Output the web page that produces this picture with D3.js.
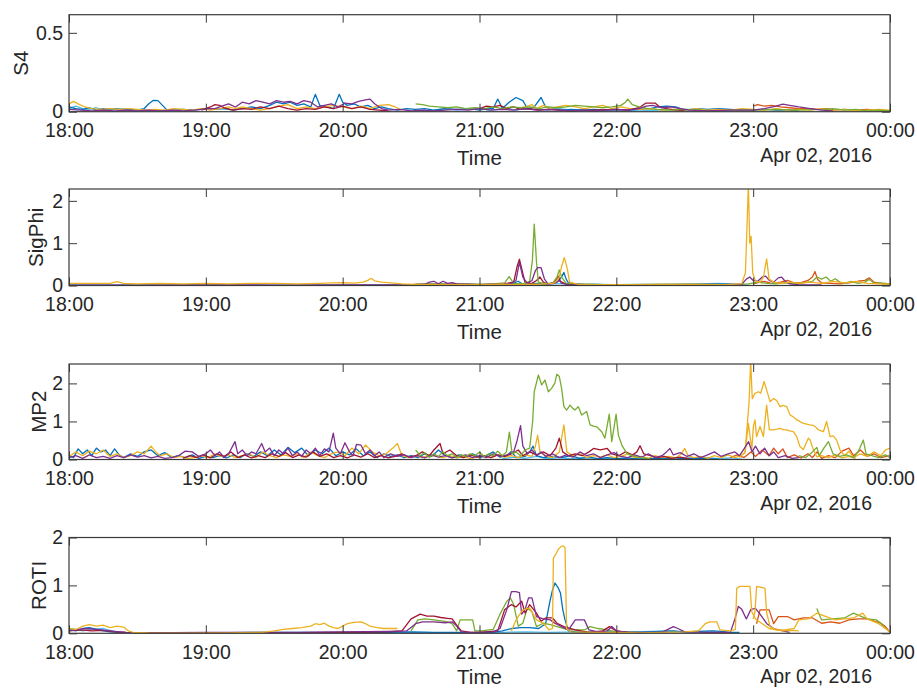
<!DOCTYPE html>
<html>
<head>
<meta charset="utf-8">
<script src="https://cdn.jsdelivr.net/npm/d3@7"></script>
<style>
  body { margin: 0; background: #fff; }
  svg text { font-family: "Liberation Sans", Arial, Helvetica, sans-serif; fill: #262626; }
</style>
</head>
<body>
<svg id="chart" width="917" height="688"></svg>
<script>
// Time window (UTC) and axis texts
const startTime = Date.UTC(2016, 3, 1, 18, 0);
const endTime = Date.UTC(2016, 3, 2, 0, 0);
const xLabel = "Time";
const dateLabel = "Apr 02, 2016";
const panelLabels = ["S4", "SigPhi", "MP2", "ROTI"];
const panelYMax = [0.615, 2.28, 2.51, 2.0];
const panelYTicks = [[0, 0.5], [0, 1, 2], [0, 1, 2], [0, 1, 2]];

// Each series: [minutes after 18:00, value]; null breaks the line
// ---------- S4 ----------
const s4Blue = [[0,.03],[3,.02],[6,.015],[9,.025],[12,.01],[15,.02],[18,.015],[21,.02],[24,.01],[27,.015],[30,.01],[33,.02],[35,.05],[37,.072],[39,.07],[41,.04],[43,.01],[46,.01],[50,.015],[55,.01],[60,.02],[64,.015],[68,.02],[72,.01],[76,.02],[80,.03],[84,.02],[88,.04],[91,.06],[94,.05],[97,.06],[100,.04],[103,.05],[106,.03],[108,.11],[110,.04],[113,.03],[116,.02],[118.5,.11],[120,.06],[122,.04],[125,.05],[128,.03],[131,.04],[134,.02],[137,.03],[140,.02],[144,.01],[148,.02],[152,.015],[156,.02],[160,.01],[165,.02],[170,.015],[175,.02],[180,.01],[184,.02],[186,.02],[188,.08],[190,.02],[193,.06],[196,.09],[199,.07],[201,.02],[204,.03],[207,.09],[209,.03],[212,.02],[216,.01],[220,.015],[225,.01],[230,.015],[235,.01],[240,.015],[245,.01],[250,.015],[255,.02],[258,.03],[262,.035],[266,.03],[270,.01],[276,.02],[280,.015],[285,.02],[290,.015],[295,.01],[300,.01],[305,.015],[310,.01],[315,.01],[320,.005]];
const s4LightBlue = [[0,.02],[3,.035],[6,.02],[9,.015],[12,.025],[15,.01],[18,.02],[21,.015],[24,.02],[28,.01],[32,.015],[36,.005],[40,.01],[44,.005],[48,null],[160,.01],[165,.02],[170,.01],[175,.015],[180,.02],[184,.01],[188,.015],[192,.02],[196,.01],[200,.02],[205,.015],[210,.01],[215,.02],[220,.01],[225,.015],[230,.005],[240,.01],[250,.005],[260,.01],[270,.015],[280,.01],[290,.005],[300,.01]];
const s4Yellow = [[0,.05],[2,.065],[4,.05],[7,.03],[10,.02],[14,.015],[18,.02],[22,.015],[26,.02],[30,.015],[34,.01],[38,.015],[42,.01],[46,.02],[50,.015],[54,.01],[58,.02],[62,.01],[66,.02],[70,.03],[73,.02],[76,.03],[80,.02],[84,.01],[88,.02],[92,.035],[96,.045],[100,.02],[104,.03],[108,.02],[112,.03],[116,.04],[120,.03],[124,.02],[128,.035],[132,.02],[136,.04],[140,.045],[143,.03],[146,.01],[148,null],[196,.02],[200,.03],[203,.045],[205,.02],[208,.04],[211,.02],[214,.03],[218,.04],[222,.03],[226,.02],[230,.03],[234,.04],[238,.02],[242,.03],[246,.02],[250,.015],[255,.02],[260,.01],[265,.015],[270,.01],[275,.02],[280,.01],[285,.015],[290,.01],[295,.02],[300,.015],[305,.01],[310,.02],[315,.01],[320,.015],[325,.01],[330,.02],[335,.01],[340,.015],[345,.005],[350,.01],[355,.015],[360,.01]];
const s4Purple = [[0,.015],[5,.01],[10,.005],[15,.01],[20,.005],[25,.01],[30,.005],[35,.01],[40,.005],[45,.01],[50,.005],[55,.01],[58,.015],[61,.02],[64,.02],[67,.035],[70,.05],[73,.03],[76,.06],[79,.05],[82,.07],[85,.06],[88,.05],[91,.07],[94,.06],[97,.065],[100,.05],[103,.07],[106,.06],[109,.03],[112,.04],[115,.05],[118,.03],[121,.055],[124,.05],[127,.065],[130,.075],[132,.08],[134,.05],[137,.02],[140,.01],[145,.015],[150,.005],[155,.01],[160,.005],[165,.01],[170,.015],[175,.01],[180,.02],[185,.01],[190,.015],[195,.01],[200,.02],[205,.01],[210,.015],[215,.01],[220,.005],[225,.01],[230,.005],[235,.01],[240,.015],[245,.01],[250,.02],[253,.035],[256,.04],[260,.025],[264,.03],[268,.02],[272,.01],[280,.005],[290,.01],[300,.01],[305,.02],[310,.035],[313,.048],[316,.04],[320,.03],[325,.02],[330,.01],[335,.005]];
const s4Green = [[152,.05],[155,.045],[158,.035],[162,.03],[166,.025],[170,.03],[174,.02],[178,.025],[182,.02],[186,.03],[190,.02],[194,.03],[198,.025],[202,.03],[206,.02],[210,.03],[214,.025],[218,.03],[222,.04],[226,.035],[230,.03],[234,.025],[238,.03],[242,.04],[244,.06],[245,.08],[247,.045],[250,.03],[254,.02],[258,.015],[264,.01],[270,.015],[276,.01],[282,.005],[290,.01],[300,.01],[310,.015],[320,.01],[330,.015],[335,.02],[340,.01],[345,.015],[350,.005],[355,.01],[360,.005]];
const s4DarkRed = [[58,.01],[62,.03],[64,.045],[66,.04],[68,.025],[72,.01],[76,.02],[80,.015],[84,.03],[88,.02],[92,.035],[96,.02],[100,.01],[104,.02],[108,.015],[112,.03],[116,.02],[120,.035],[124,.02],[128,.03],[132,.015],[136,.01],[140,.005],[145,null],[180,.02],[183,.035],[186,.03],[189,.04],[192,.02],[195,.03],[198,.015],[202,.02],[206,.01],[210,.015],[215,.01],[220,.005],[230,.01],[240,.015],[245,.01],[250,.025],[253,.055],[257,.055],[259,.03],[262,.02],[266,.01],[270,.005]];
const s4Orange = [[300,.035],[302,.045],[305,.035],[308,.04],[312,.03],[316,.025],[320,.02],[325,.02],[328,.015],[332,.02],[336,.01],[340,.015],[345,.01],[350,.015],[355,.005],[360,.005]];

// ---------- SigPhi ----------
const sigBlue = [[0,.01],[40,.01],[80,.005],[120,.01],[150,.01],[158,.03],[160,.01],[180,.01],[194,.03],[197,.1],[199,.03],[205,.05],[210,.03],[214,.08],[216,.2],[217,.31],[218,.15],[219,.06],[222,.04],[226,.03],[235,.02],[250,.015],[265,.02],[275,.03],[282,.04],[288,.03],[295,.01]];
const sigLightBlue = [[190,.02],[205,.02],[212,.04],[220,.05],[224,.03],[240,.02],[255,.03],[265,.04],[275,.035],[285,.05],[292,.03],[298,.01]];
const sigYellow = [[0,.05],[10,.05],[18,.05],[21,.09],[24,.05],[30,.04],[40,.05],[50,.04],[60,.05],[70,.04],[80,.05],[90,.05],[100,.04],[110,.05],[115,.06],[120,.065],[125,.055],[129,.08],[131,.12],[132.5,.17],[134,.11],[137,.08],[141,.06],[146,.04],[150,.03],[160,.02],[170,.02],[180,.02],[190,.03],[196,.02],[205,.03],[210,.04],[213,.06],[215,.2],[216,.45],[217.2,.66],[218.5,.4],[219.5,.08],[223,.03],[230,.02],[245,.02],[260,.03],[275,.03],[288,.02],[295,.04],[296.6,.3],[297.3,1.4],[297.9,2.4],[298.5,1.0],[299.1,1.16],[299.8,.3],[301,.1],[303,.08],[304.5,.2],[305.9,.63],[307,.15],[309,.08],[312,.05],[316,.08],[320,.05],[325,.08],[330,.05],[335,.1],[340,.06],[345,.1],[350,.05],[355,.04],[360,.03]];
const sigPurple = [[0,.01],[30,.01],[60,.015],[90,.01],[120,.015],[150,.02],[156,.03],[158,.08],[160,.1],[162,.04],[164,.1],[166,.05],[168,.07],[170,.04],[175,.03],[180,.02],[185,.03],[190,.03],[194,.05],[196,.12],[197.5,.55],[199,.2],[201,.05],[203,.12],[204.5,.35],[205.5,.42],[207,.42],[208.5,.15],[210,.04],[213,.05],[215,.12],[216,.05],[219,.02],[230,.015],[250,.02],[270,.015],[285,.02],[295,.03],[297,.15],[298.5,.2],[300,.12],[302,.1],[304,.2],[305.5,.22],[307,.12],[309,.08],[311,.18],[312.5,.2],[314,.1],[316,.04],[320,.02],[330,.015]];
const sigGreen = [[152,.03],[160,.04],[170,.03],[180,.03],[186,.04],[191,.06],[193,.21],[195,.05],[199,.04],[202,.1],[203.2,.6],[204,1.45],[205,.55],[205.8,.08],[208,.05],[212,.05],[214,.2],[215,.37],[216,.2],[218,.05],[222,.03],[235,.02],[250,.02],[270,.02],[290,.02],[298,.04],[302,.08],[306,.05],[310,.04],[314,.06],[318,.04],[322,.06],[326,.1],[328,.2],[330,.15],[332,.2],[334,.1],[336,.16],[338,.08],[340,.05],[343,.1],[346,.05],[349,.08],[351,.15],[353,.05],[356,.06],[360,.04]];
const sigDarkRed = [[150,.02],[160,.03],[170,.03],[180,.02],[190,.03],[195,.08],[196.5,.45],[197.5,.62],[198.5,.4],[200,.06],[203,.05],[205,.12],[206.5,.2],[208,.08],[210,.03],[213,.08],[214.5,.22],[215.5,.1],[218,.03],[225,.02],[240,.01],[260,.01],[280,.015],[290,.01]];
const sigOrange = [[300,.04],[303,.08],[305,.1],[308,.05],[312,.08],[315,.12],[318,.06],[321,.07],[324,.12],[326,.2],[327.1,.33],[328.2,.15],[330,.06],[334,.05],[338,.04],[342,.06],[346,.1],[349,.12],[351,.18],[353,.08],[356,.05],[360,.04]];

// ---------- MP2 ----------
const mpBlue = [[0,.1],[2,.05],[4,.28],[6,.15],[8,.25],[10,.1],[12,.3],[14,.2],[16,.25],[18,.1],[20,.28],[22,.12],[24,.05],[27,.15],[30,.08],[33,.2],[36,.25],[39,.1],[42,.18],[45,.05],[48,.1],[51,.05],[54,.12],[57,.03],[60,.08],[63,.05],[66,.1],[69,.04],[72,.12],[75,.05],[78,.15],[81,.08],[84,.2],[87,.1],[90,.25],[93,.12],[96,.32],[99,.18],[102,.3],[105,.1],[108,.25],[111,.15],[114,.3],[117,.1],[120,.2],[123,.12],[126,.28],[129,.1],[132,.2],[135,.05],[138,.15],[141,.08],[144,.12],[147,.05],[150,.1],[153,.05],[156,.15],[159,.08],[162,.25],[165,.1],[168,.05],[171,.12],[174,.08],[177,.15],[180,.05],[183,.1],[186,.2],[189,.06],[192,.1],[194,.22],[196,.05],[200,.08],[202,.2],[203.5,.35],[205,.1],[208,.05],[212,.08],[216,.05],[220,.1],[224,.03],[228,.06],[232,.02],[236,.05],[240,.02],[245,.04],[250,.01],[255,.03],[260,.02],[265,.05],[270,.02],[275,.04],[280,.02],[285,.01]];
const mpLightBlue = [[190,.02],[195,.06],[200,.03],[205,.08],[210,.02],[215,.05],[220,.02],[225,.04],[230,.01],[235,.03],[240,.01],[250,.02],[260,.01],[270,.03],[280,.05],[285,.02],[290,.04],[295,.01]];
const mpYellow = [[0,.08],[3,.2],[6,.1],[9,.22],[12,.15],[15,.25],[18,.08],[21,.15],[24,.05],[27,.1],[30,.2],[33,.15],[36,.35],[38,.2],[40,.1],[43,.15],[46,.05],[49,.08],[52,.03],[55,.05],[58,.1],[61,.05],[64,.15],[67,.08],[70,.12],[73,.05],[76,.1],[79,.15],[82,.05],[85,.2],[88,.1],[91,.05],[94,.12],[97,.08],[100,.15],[103,.05],[106,.2],[109,.1],[112,.05],[115,.15],[118,.2],[121,.1],[124,.3],[127,.15],[130,.38],[133,.2],[136,.1],[139,.15],[142,.3],[144,.42],[146,.1],[149,.05],[152,.1],[155,.05],[158,.12],[161,.08],[164,.05],[167,.1],[170,.04],[173,.08],[176,.03],[179,.06],[182,.1],[185,.05],[188,.12],[191,.06],[194,.1],[197,.05],[200,.12],[203,.08],[204.5,.35],[205.5,.64],[206.5,.2],[209,.1],[212,.05],[215,.2],[217,.91],[218.3,.2],[221,.1],[224,.15],[227,.05],[230,.1],[233,.06],[236,.12],[239,.05],[242,.08],[245,.15],[248,.05],[251,.08],[254,.03],[257,.1],[260,.05],[263,.08],[266,.04],[268.5,.15],[270,.29],[271.5,.1],[274,.05],[277,.08],[280,.03],[283,.1],[286,.05],[289,.12],[292,.05],[294.5,.1],[296.4,.17],[298.2,1.5],[298.9,2.6],[299.6,1.6],[300.8,1.74],[302.3,1.78],[303.3,1.74],[304.8,2.05],[305.9,1.83],[307.4,1.52],[309,1.6],[310.3,1.55],[311.8,1.39],[313,1.42],[314.7,1.39],[316.2,1.17],[317.6,1.12],[319.1,1.04],[320.5,1.0],[322,.95],[323.5,.93],[324.9,.91],[326,.9],[327.1,.87],[328.6,.78],[330.8,.73],[332.2,1.0],[333.7,.6],[335.1,.62],[336.6,.51],[338.1,.25],[340,.1],[342,.22],[344,.05],[347,.15],[350,.08],[353,.2],[356,.1],[358,.25],[360,.3]];
const mpYellow2 = [[294,.05],[296.5,.2],[297.9,.95],[299.4,.26],[300.1,.87],[300.8,1.04],[301.5,.6],[303,.87],[304.5,.6],[305.9,1.43],[307.1,.78],[308.8,.78],[310.5,.8],[311.8,.82],[313.5,.78],[314.7,.78],[316,.75],[317.6,.73],[319.1,.6],[320.5,.34],[322,.26],[324.2,.56],[324.9,.52],[326.4,.26],[327.9,.07],[330,.1],[333,.05],[336,.12],[339,.04],[342,.08],[345,.03]];
const mpPurple = [[0,.05],[3,.1],[6,.03],[9,.12],[12,.05],[15,.08],[18,.03],[21,.1],[24,.05],[27,.12],[30,.06],[33,.1],[36,.04],[39,.08],[42,.03],[45,.05],[48,.1],[51,.22],[54,.2],[57,.08],[60,.15],[62,.25],[64,.1],[66,.2],[68,.05],[70,.15],[72.8,.47],[74,.15],[76,.25],[78,.1],[80,.2],[82,.15],[84.5,.42],[86,.2],[88,.3],[90,.1],[92,.25],[94,.15],[96,.3],[98,.1],[100,.2],[102,.08],[104,.25],[106,.15],[108,.3],[110,.1],[112,.28],[114,.2],[115.9,.69],[117,.3],[119,.15],[121,.44],[123,.2],[124.5,.1],[126.1,.4],[128,.38],[130,.15],[132,.25],[134,.1],[136,.2],[138,.05],[141,.15],[144,.08],[147,.12],[150,.05],[153,.1],[156,.04],[159,.12],[162,.06],[165,.1],[168,.04],[171,.08],[174,.12],[177,.05],[180,.1],[183,.05],[186,.15],[189,.08],[192,.12],[195,.2],[196.5,.5],[198,.89],[199,.35],[201,.15],[203,.25],[205,.1],[207,.2],[209,.08],[212,.15],[215,.05],[218,.12],[221,.06],[224,.2],[227,.1],[230,.15],[233,.05],[236,.12],[239,.18],[242,.08],[245,.05],[248,.12],[251,.06],[254,.15],[257,.05],[260,.1],[262,.2],[263.5,.29],[265,.12],[268,.18],[271,.08],[274,.15],[277,.05],[280,.12],[283,.2],[286,.08],[289,.15],[292,.2],[294,.1],[296,.28],[298,.47],[299.5,.2],[301,.35],[303,.15],[305,.3],[307,.1],[309,.2],[311,.05],[314,.1],[317,.03],[320,.05]];
const mpDarkRed = [[50,.03],[53,.1],[56,.05],[59,.12],[62,.04],[65,.15],[68,.08],[71,.2],[74,.05],[77,.12],[80,.04],[83,.1],[86,.05],[89,.15],[92,.08],[95,.18],[98,.05],[101,.12],[104,.06],[107,.2],[110,.08],[113,.15],[116,.05],[119,.1],[122,.04],[125,.12],[128,.06],[131,.15],[134,.05],[137,.1],[140,.04],[143,.08],[146,.15],[149,.06],[152,.1],[155,.2],[158,.1],[160,.25],[162.7,.42],[164,.15],[167,.25],[170,.1],[173,.05],[176,.12],[179,.06],[182,.1],[185,.05],[188,.12],[191,.08],[194,.15],[197,.25],[199,.1],[202,.2],[205,.12],[208,.2],[211,.1],[213.5,.3],[215,.56],[216.5,.2],[219,.1],[222,.15],[225,.1],[228,.2],[230,.29],[233,.25],[236,.29],[238,.15],[241,.1],[244,.2],[247,.12],[249,.2],[250.4,.36],[252,.15],[255,.1],[258,.05],[261,.08],[264,.03],[268,.06],[272,.02]];
const mpOrange = [[290,.05],[293,.12],[296,.05],[299,.2],[301,.08],[304,.25],[307,.1],[309,.3],[311,.15],[313,.28],[315,.05],[318,.12],[321,.04],[324,.15],[326,.05],[328,.2],[330,.03],[333,.1],[336,.05],[339,.22],[342,.3],[344,.1],[347,.25],[350,.08],[353,.15],[356,.05],[360,.1]];
const mpGreen = [[152,.25],[154,.1],[156,.18],[158,.05],[160,.15],[162,.08],[164,.2],[166,.1],[168,.15],[170,.05],[172,.12],[174,.08],[176,.15],[178,.1],[180,.2],[182,.08],[184,.15],[186,.1],[188,.22],[190,.1],[191.8,.2],[193.1,.72],[194.3,.15],[196,.2],[198,.1],[200,.25],[202,.3],[203.3,1.0],[204,1.78],[205.8,2.22],[207.3,1.96],[208.7,2.09],[210.2,1.78],[211.6,1.87],[213,2.0],[213.9,2.24],[215,2.18],[216,1.87],[217,1.39],[218.2,1.3],[219.7,1.43],[220.8,1.35],[221.9,1.3],[223.3,1.39],[224.8,1.17],[227,1.26],[228.5,.91],[230,.88],[231.4,.86],[233.6,.73],[235,.56],[236.9,1.19],[238,.47],[239.9,1.19],[240.9,.64],[242.4,.38],[244.6,.16],[247,.1],[250,.05],[254,.03],[258,null],[320,.1],[323,.05],[326,.2],[327.9,.32],[329,.1],[331,.3],[333,.47],[335,.15],[338,.08],[341,.12],[344,.05],[346,.2],[348.3,.51],[349.5,.15],[352,.1],[355,.05],[358,.12],[360,.05]];

// ---------- ROTI ----------
const roBlue = [[0,.08],[3,.05],[6,.1],[9,.12],[12,.08],[15,.05],[18,.03],[22,.02],[26,.01],[40,.01],[60,.01],[80,.02],[100,.02],[120,.02],[140,.02],[150,.03],[160,.02],[170,.02],[180,.01],[186,.02],[190,.05],[194,.1],[198,.12],[202,.12],[206,.1],[209,.2],[210.9,.67],[212,.9],[213.1,1.05],[214.5,.95],[215.5,.84],[216.5,.5],[217.5,.28],[219,.05],[222,.03],[230,.02],[240,.03],[250,.02],[260,.04],[265,.05],[270,.03],[275,.04],[282,.05],[286,.04],[290,.02],[294,.02]];
const roLightBlue = [[0,.1],[3,.08],[6,.05],[9,.07],[12,.09],[15,.1],[18,.06],[22,.02],[30,.01],[50,.01],[70,.005],[90,.01],[110,.01],[130,.015],[150,.02],[170,.01],[190,.02],[200,.03],[210,.02],[225,.03],[240,.02],[255,.04],[262,.05],[268,.03],[280,.02],[292,.01]];
const roYellow = [[0,.1],[3,.08],[6,.15],[9,.18],[12,.15],[15,.17],[18,.12],[21,.15],[24,.13],[26,.05],[28,.02],[35,.01],[50,.005],[70,.01],[85,.02],[90,.05],[94,.08],[98,.1],[102,.12],[106,.15],[108,.2],[110,.18],[112,.21],[114,.15],[116,.12],[118,.1],[120,.15],[122,.2],[125,.23],[128,.24],[130,.2],[132,.15],[135,.12],[138,.1],[142,.1],[144,.1]];
const roYellow2 = [[194,.05],[196,.28],[199,.49],[202,.53],[205,.28],[208,.21],[210.5,.07],[212,.1],[212.4,1.57],[213.1,1.62],[214.5,1.75],[216,1.82],[217,1.82],[217.5,1.78],[218.2,.1],[220,.03],[230,.02],[240,.02],[250,.01],[260,.02],[270,.03],[276,.05],[279,.2],[281,.24],[284,.24],[285.5,.07],[290,.05],[292.2,.08],[292.8,.94],[294.2,.98],[298.6,.98],[299.4,.45],[301,.3],[304,.2],[307,.1],[310,.07],[314,.07],[318,.1],[320,.28],[324,.3],[328,.42],[332,.35],[336,.28],[340,.3],[344,.32],[348,.42],[350,.3],[355,.2],[358,.1],[360,.02]];
const roYellow3 = [[300,.3],[300.8,.45],[301.5,.98],[305.2,.94],[305.9,.43],[307.4,.14],[310.3,.07],[313,.05],[316,.06],[320,.05]];
const roPurple = [[0,.05],[4,.08],[8,.1],[12,.08],[16,.06],[20,.04],[25,.02],[30,.01],[60,.02],[80,.02],[100,.02],[120,.03],[140,.04],[148,.05],[152,.2],[155,.24],[160,.24],[165,.22],[168,.24],[170,.15],[172,.03],[175,.02],[180,.02],[186,.03],[189,.1],[192,.5],[194,.87],[196,.87],[197.5,.85],[198.5,.4],[200,.5],[201.5,.74],[203,.74],[205,.35],[208,.3],[211,.28],[213,.21],[216,.14],[219,.07],[222,.28],[226,.28],[228,.07],[232,.03],[236,.05],[238,.14],[240,.05],[245,.02],[260,.02],[265,.14],[267,.1],[270,.03],[280,.02],[290,.02],[292,.3],[293.5,.56],[295,.5],[297,.3],[299,.5],[301,.52],[303,.4],[306,.2],[309,.1],[313,.05],[316,.02]];
const roDarkRed = [[0,.05],[5,.07],[10,.05],[15,.06],[20,.03],[25,.02],[40,.01],[80,.01],[120,.02],[140,.03],[146,.05],[150,.3],[154,.4],[157,.36],[160,.36],[163,.33],[166,.31],[168,.3],[170,.17],[172,.05],[176,.02],[180,.02],[188,.05],[191,.49],[194,.6],[196,.55],[198.5,.67],[200,.42],[202,.6],[205,.42],[207,.25],[209,.32],[212,.32],[214,.21],[217,.14],[222,.07],[228,.02],[234,.05],[237,.14],[240,.05],[245,.02]];
const roGreen = [[150,.05],[153,.28],[156,.3],[160,.28],[165,.25],[168,.2],[170,.05],[171.5,.28],[177,.28],[178,.05],[181,.05],[186,.08],[189,.4],[192,.67],[193.5,.74],[195,.6],[197,.15],[199,.21],[201,.53],[203,.45],[205,.14],[208,.21],[211,.18],[214,.14],[219,.07],[226,.07],[228.5,.14],[232,.1],[236,.07],[240,.03],[250,.02],[255,null],[327.9,.52],[330,.28],[335,.3],[340,.32],[344,.42],[346,.38],[350,.3],[354,.28],[356,.21],[358,.1]];
const roOrange = [[301.5,.2],[303,.49],[307,.49],[309,.2],[311,.35],[315,.35],[318,.28],[322,.32],[326,.32],[330,.21],[334,.24],[338,.21],[342,.28],[346,.3],[350,.3],[354,.24],[356,.21],[358,.14],[360,.02]];

// Line colours (MATLAB default order)
const palette = {
  blue: "#0072BD", orange: "#D95319", yellow: "#EDB120", purple: "#7E2F8E",
  green: "#77AC30", lightBlue: "#4DBEEE", darkRed: "#A2142F"
};

// Series per panel, in drawing order
const panelSeries = [
  [[s4LightBlue,"lightBlue"],[s4Blue,"blue"],[s4Orange,"orange"],[s4Yellow,"yellow"],[s4DarkRed,"darkRed"],[s4Green,"green"],[s4Purple,"purple"]],
  [[sigLightBlue,"lightBlue"],[sigBlue,"blue"],[sigOrange,"orange"],[sigDarkRed,"darkRed"],[sigGreen,"green"],[sigPurple,"purple"],[sigYellow,"yellow"]],
  [[mpLightBlue,"lightBlue"],[mpBlue,"blue"],[mpOrange,"orange"],[mpYellow2,"yellow"],[mpYellow,"yellow"],[mpDarkRed,"darkRed"],[mpPurple,"purple"],[mpGreen,"green"]],
  [[roLightBlue,"lightBlue"],[roBlue,"blue"],[roOrange,"orange"],[roGreen,"green"],[roDarkRed,"darkRed"],[roPurple,"purple"],[roYellow,"yellow"],[roYellow2,"yellow"],[roYellow3,"yellow"]]
];

// Layout
const plotLeft = 69, plotRight = 890;
const panelTop = [14.7, 189, 364, 537.5];
const panelBottom = [111.7, 285.5, 459.5, 633.3];
const labelX = [28, 42.5, 46, 45.5];
const xLabelGap = [53, 53, 53, 51];
const tickLen = 8;
const axisColor = "#3a3a3a";

const svg = d3.select("#chart");
const x = d3.scaleUtc().domain([startTime, endTime]).range([plotLeft, plotRight]);
const hourTicks = d3.utcHour.every(1).range(new Date(startTime), new Date(endTime + 1));
const fmtHM = d3.utcFormat("%H:%M");

panelLabels.forEach((label, i) => {
  const top = panelTop[i], bottom = panelBottom[i];
  const y = d3.scaleLinear().domain([0, panelYMax[i]]).range([bottom, top]);
  const g = svg.append("g");

  const clipId = "clip" + i;
  svg.append("clipPath").attr("id", clipId)
    .append("rect").attr("x", plotLeft).attr("y", top)
    .attr("width", plotRight - plotLeft).attr("height", bottom - top);

  const line = d3.line()
    .defined(d => d[1] != null)
    .x(d => x(startTime + d[0] * 60000))
    .y(d => y(d[1]));

  const lines = g.append("g").attr("clip-path", `url(#${clipId})`);
  panelSeries[i].forEach(([data, key]) => {
    lines.append("path")
      .datum(data)
      .attr("d", line)
      .attr("fill", "none")
      .attr("stroke", palette[key])
      .attr("stroke-width", 1.3)
      .attr("stroke-linejoin", "round");
  });

  // Axes with inward ticks
  const styleAxis = sel => {
    sel.select(".domain").remove();
    sel.selectAll(".tick line").attr("stroke", axisColor).attr("stroke-width", 1);
    sel.selectAll(".tick text").style("font-size", "19.5px").attr("fill", "#262626");
  };
  g.append("g").attr("transform", `translate(0,${bottom})`)
    .call(d3.axisBottom(x).tickValues(hourTicks).tickFormat(fmtHM)
      .tickSizeInner(-tickLen).tickSizeOuter(0).tickPadding(11.8))
    .call(styleAxis);
  g.append("g").attr("transform", `translate(0,${top})`)
    .call(d3.axisTop(x).tickValues(hourTicks).tickFormat("")
      .tickSizeInner(-tickLen).tickSizeOuter(0))
    .call(styleAxis);
  g.append("g").attr("transform", `translate(${plotLeft},0)`)
    .call(d3.axisLeft(y).tickValues(panelYTicks[i]).tickFormat(d3.format("~g"))
      .tickSizeInner(-tickLen).tickSizeOuter(0).tickPadding(6))
    .call(styleAxis);
  g.append("g").attr("transform", `translate(${plotRight},0)`)
    .call(d3.axisRight(y).tickValues(panelYTicks[i]).tickFormat("")
      .tickSizeInner(-tickLen).tickSizeOuter(0))
    .call(styleAxis);

  // Box
  g.append("rect")
    .attr("x", plotLeft).attr("y", top)
    .attr("width", plotRight - plotLeft).attr("height", bottom - top)
    .attr("fill", "none").attr("stroke", axisColor).attr("stroke-width", 1.2);

  // Labels
  g.append("text")
    .attr("x", (plotLeft + plotRight) / 2).attr("y", bottom + xLabelGap[i])
    .attr("text-anchor", "middle").style("font-size", "20.5px")
    .text(xLabel);
  g.append("text")
    .attr("x", 872).attr("y", bottom + 50)
    .attr("text-anchor", "end").style("font-size", "19.5px")
    .text(dateLabel);
  g.append("text")
    .attr("transform", `translate(${labelX[i]},${(top + bottom) / 2}) rotate(-90)`)
    .attr("text-anchor", "middle").style("font-size", "20.5px")
    .text(label);
});
</script>
</body>
</html>
